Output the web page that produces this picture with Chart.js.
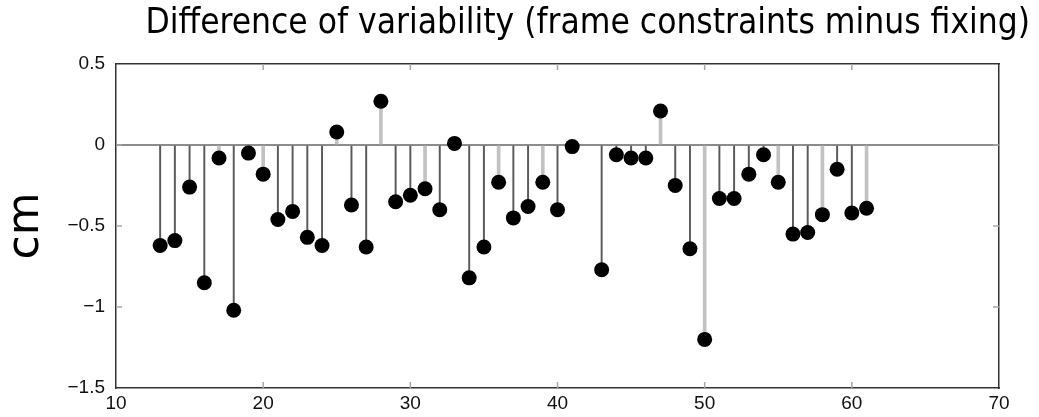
<!DOCTYPE html>
<html>
<head>
<meta charset="utf-8">
<script src="https://cdn.jsdelivr.net/npm/chart.js@4/dist/chart.umd.min.js"></script>
<style>
  html, body { margin: 0; padding: 0; background: #fff; }
  #wrap { width: 1039px; height: 417px; position: relative; }
</style>
</head>
<body>
<div id="wrap"><canvas id="stemChart"></canvas></div>
<script>
// stem plot data
const xValues = [13, 14, 15, 16, 17, 18, 19, 20, 21, 22, 23, 24, 25, 26, 27, 28, 29, 30,
    31, 32, 33, 34, 35, 36, 37, 38, 39, 40, 41, 43, 44, 45, 46, 47, 48, 49, 50,
    51, 52, 53, 54, 55, 56, 57, 58, 59, 60, 61];
const diffValues = [-0.62, -0.59, -0.26, -0.85, -0.08, -1.02, -0.05, -0.18, -0.46, -0.41,
    -0.57, -0.62, 0.08, -0.37, -0.63, 0.27, -0.35, -0.31, -0.27, -0.40, 0.01, -0.82,
    -0.63, -0.23, -0.45, -0.38, -0.23, -0.40, -0.01, -0.77, -0.06, -0.08, -0.08, 0.21,
    -0.25, -0.64, -1.20, -0.33, -0.33, -0.18, -0.06, -0.23, -0.55, -0.54, -0.43, -0.15,
    -0.42, -0.39];
// these stems are drawn in the lighter grey
const lightStemIds = [17, 20, 25, 28, 31, 36, 39, 47, 50, 55, 58, 61];
const xTicks = [10, 20, 30, 40, 50, 60, 70];
const yTicks = [-1.5, -1, -0.5, 0, 0.5];

const points = xValues.map((x, i) => ({ x: x, y: diffValues[i] }));
const darkStems = points.filter(p => !lightStemIds.includes(p.x));
const lightStems = points.filter(p => lightStemIds.includes(p.x));

function fmtTick(v) {
    return v < 0 ? '\u2212' + Math.abs(v) : String(v);
}

// matlab style: little tick marks pointing into the box
const innerTicks = {
    id: 'innerTicks',
    beforeDatasetsDraw(chart) {
        const { ctx, chartArea: a, scales } = chart;
        const len = 6;
        ctx.save();
        ctx.strokeStyle = '#a8a8a8';
        ctx.lineWidth = 1.5;
        ctx.beginPath();
        xTicks.slice(1, -1).forEach(v => {
            const px = scales.x.getPixelForValue(v);
            ctx.moveTo(px, a.bottom); ctx.lineTo(px, a.bottom - len);
            ctx.moveTo(px, a.top); ctx.lineTo(px, a.top + len);
        });
        yTicks.slice(1, -1).forEach(v => {
            const py = scales.y.getPixelForValue(v);
            ctx.moveTo(a.left, py); ctx.lineTo(a.left + len, py);
            ctx.moveTo(a.right, py); ctx.lineTo(a.right - len, py);
        });
        ctx.stroke();
        ctx.restore();
    }
};

const tickFont = { family: 'Liberation Sans', size: 19 };
const boxBorder = { display: true, color: '#333', width: 1.5 };

new Chart(document.getElementById('stemChart').getContext('2d'), {
    type: 'bar',
    data: {
        datasets: [
            {
                type: 'scatter',
                label: 'difference',
                data: points,
                pointRadius: 7.5,
                pointHoverRadius: 7.5,
                pointBackgroundColor: '#000',
                pointBorderColor: '#000',
                pointBorderWidth: 0,
                order: 0
            },
            {
                label: 'stems',
                data: darkStems,
                backgroundColor: '#5a5a5a',
                barThickness: 1.3,
                grouped: false,
                order: 1
            },
            {
                label: 'stems light',
                data: lightStems,
                backgroundColor: '#c2c2c2',
                barThickness: 3,
                grouped: false,
                order: 2
            }
        ]
    },
    options: {
        responsive: true,
        maintainAspectRatio: false,
        animation: false,
        layout: { padding: { right: 9 } },
        plugins: {
            legend: { display: false },
            tooltip: { enabled: false },
            title: {
                display: true,
                text: 'Difference of variability (frame constraints minus fixing)',
                align: 'end',
                color: '#000',
                font: { family: 'DejaVu Sans Condensed, DejaVu Sans', size: 35, weight: 'normal' },
                padding: { top: 3, bottom: 19 }
            }
        },
        scales: {
            x: {
                type: 'linear',
                position: 'bottom',
                offset: false,
                min: 10,
                max: 70,
                afterBuildTicks: s => { s.ticks = xTicks.map(v => ({ value: v })); },
                ticks: { color: '#111', font: tickFont, padding: 4, maxRotation: 0 },
                grid: { drawOnChartArea: false, drawTicks: false, offset: false },
                border: boxBorder,
                afterFit: s => { s.height = 29; }
            },
            x2: {
                type: 'linear',
                position: 'top',
                offset: false,
                min: 10,
                max: 70,
                ticks: { display: false },
                grid: { drawOnChartArea: false, drawTicks: false, offset: false },
                border: boxBorder,
                afterFit: s => { s.height = 0; }
            },
            y: {
                min: -1.5,
                max: 0.5,
                afterBuildTicks: s => { s.ticks = yTicks.map(v => ({ value: v })); },
                ticks: { color: '#111', font: tickFont, padding: 11, callback: v => fmtTick(v) },
                grid: {
                    drawTicks: false,
                    color: c => (c.tick && c.tick.value === 0) ? '#8c8c8c' : 'rgba(0,0,0,0)',
                    lineWidth: 2
                },
                border: boxBorder,
                title: {
                    display: true,
                    text: 'cm',
                    color: '#000',
                    font: { family: 'DejaVu Sans', size: 44 },
                    padding: 0
                },
                afterFit: s => { s.width = 116; }
            },
            y2: {
                position: 'right',
                min: -1.5,
                max: 0.5,
                ticks: { display: false },
                grid: { drawOnChartArea: false, drawTicks: false },
                border: boxBorder,
                afterFit: s => { s.width = 31; }
            }
        }
    },
    plugins: [innerTicks]
});
</script>
</body>
</html>
